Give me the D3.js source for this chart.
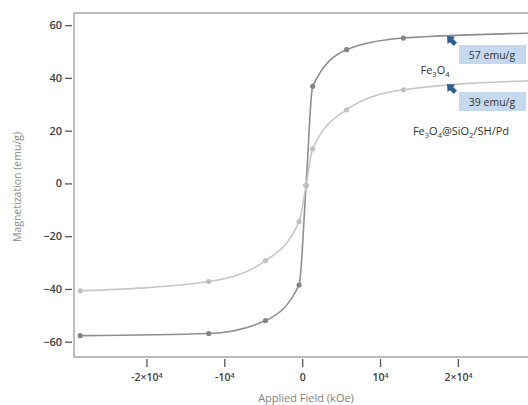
<!DOCTYPE html>
<html>
<head>
<meta charset="utf-8">
<script src="https://cdn.jsdelivr.net/npm/d3@7"></script>
<style>
  body { margin: 0; background: #fff; }
  svg { font-family: "Open Sans", sans-serif; }
</style>
</head>
<body>
<svg id="chart" width="528" height="405"></svg>
<script>
// applied field (Oe) and magnetization (emu/g)
var fieldPts = [-28500, -12000, -4700, -400, 500, 1350, 5700, 13000, 30000];
var magFe3O4 = [-57.7, -56.9, -52.0, -38.5, -0.8, 36.8, 50.7, 55.1, 57.0];
var magCoated = [-40.7, -37.2, -29.3, -14.5, -0.8, 13.1, 27.9, 35.5, 39.0];
var xTicks = [-20000, -10000, 0, 10000, 20000];
var yTicks = [-60, -40, -20, 0, 20, 40, 60];
var satLabels = ["57 emu/g", "39 emu/g"];

var svg = d3.select("#chart");
var plotL = 74, plotT = 13, plotB = 357, plotR = 528;

var x = d3.scaleLinear().domain([-29300, 29000]).range([plotL, plotR]);
var y = d3.scaleLinear().domain([-65.8, 64.6]).range([plotB, plotT]);

// frame
svg.append("path")
    .attr("d", "M" + plotR + "," + plotT + "H" + plotL + "V" + plotB + "H" + plotR)
    .attr("fill", "none").attr("stroke", "#a6a6a6").attr("stroke-width", 1.5);

// y axis
var yAxis = svg.append("g").attr("transform", "translate(" + (plotL - 2) + ",0)")
    .call(d3.axisLeft(y).tickValues(yTicks).tickSize(7).tickPadding(3));
yAxis.select(".domain").remove();
yAxis.selectAll("line").attr("stroke", "#555").attr("stroke-width", 1.3);
yAxis.selectAll("text").attr("fill", "#404040").style("font-size", "11px")
    .style("font-weight", 600).style("font-family", "Open Sans");

// x axis
var xAxis = svg.append("g").attr("transform", "translate(0," + (plotB + 2) + ")")
    .call(d3.axisBottom(x).tickValues(xTicks).tickSize(8).tickPadding(7));
xAxis.select(".domain").remove();
xAxis.selectAll("line").attr("stroke", "#555").attr("stroke-width", 1.3);
xAxis.selectAll("text").attr("fill", "#404040").style("font-size", "10.5px")
    .style("font-weight", 600).style("font-family", "Open Sans")
    .each(function (d) {
        var t = d3.select(this).text("");
        if (d === 0) { t.text("0"); return; }
        var m = d / 10000;
        var pre = m === 1 ? "" : m === -1 ? "-" : (m + "\u00d7");
        t.append("tspan").text(pre + "10");
        t.append("tspan").attr("dy", "-0.45em").style("font-size", "7px").text("4");
    });

// axis titles
svg.append("text").attr("x", 306).attr("y", 402).attr("text-anchor", "middle")
    .attr("fill", "#7f7f7f").style("font-size", "11px").text("Applied Field (kOe)");
svg.append("text").attr("transform", "translate(21,187) rotate(-90)")
    .attr("text-anchor", "middle").attr("fill", "#8a8a8a").style("font-size", "10.5px")
    .text("Magnetization (emu/g)");

// curves
var line = d3.line().curve(d3.curveMonotoneX)
    .x(function (d) { return x(d[0]); }).y(function (d) { return y(d[1]); });

function drawSeries(vals, color, dot) {
    var pts = d3.zip(fieldPts, vals);
    svg.append("path").datum(pts).attr("d", line)
        .attr("fill", "none").attr("stroke", color).attr("stroke-width", 1.6);
    svg.append("g").selectAll("circle").data(pts).enter().append("circle")
        .attr("cx", function (d) { return x(d[0]); })
        .attr("cy", function (d) { return y(d[1]); })
        .attr("r", 2.6).attr("fill", dot);
}
drawSeries(magFe3O4, "#8e8e8e", "#858585");
drawSeries(magCoated, "#c6c6c6", "#c0c0c0");

// saturation call-outs
var boxTops = [45, 92];
var arrowTips = [[447, 36], [447, 84]];
satLabels.forEach(function (s, i) {
    svg.append("rect").attr("x", 459).attr("y", boxTops[i]).attr("width", 67).attr("height", 19)
        .attr("fill", "#c5daee");
    svg.append("text").attr("x", 492).attr("y", boxTops[i] + 13.5).attr("text-anchor", "middle")
        .attr("fill", "#333").style("font-size", "10.5px").text(s);
    var a = arrowTips[i];
    svg.append("path")
        .attr("transform", "translate(" + a[0] + "," + a[1] + ")")
        .attr("d", "M0,0 L8,0.5 L6.3,3 L10,6.7 L6.7,10 L3,6.3 L0.5,8 Z")
        .attr("fill", "#2f5f95");
});

// series names
var t1 = svg.append("text").attr("x", 435).attr("y", 74).attr("text-anchor", "middle")
    .attr("fill", "#333").style("font-size", "11px");
t1.append("tspan").text("Fe");
t1.append("tspan").attr("dy", 3).style("font-size", "7.5px").text("3");
t1.append("tspan").attr("dy", -3).text("O");
t1.append("tspan").attr("dy", 3).style("font-size", "7.5px").text("4");

var t2 = svg.append("text").attr("x", 461).attr("y", 135).attr("text-anchor", "middle")
    .attr("fill", "#333").style("font-size", "11px");
t2.append("tspan").text("Fe");
t2.append("tspan").attr("dy", 3).style("font-size", "7.5px").text("3");
t2.append("tspan").attr("dy", -3).text("O");
t2.append("tspan").attr("dy", 3).style("font-size", "7.5px").text("4");
t2.append("tspan").attr("dy", -3).text("@SiO");
t2.append("tspan").attr("dy", 3).style("font-size", "7.5px").text("2");
t2.append("tspan").attr("dy", -3).text("/SH/Pd");
</script>
</body>
</html>
